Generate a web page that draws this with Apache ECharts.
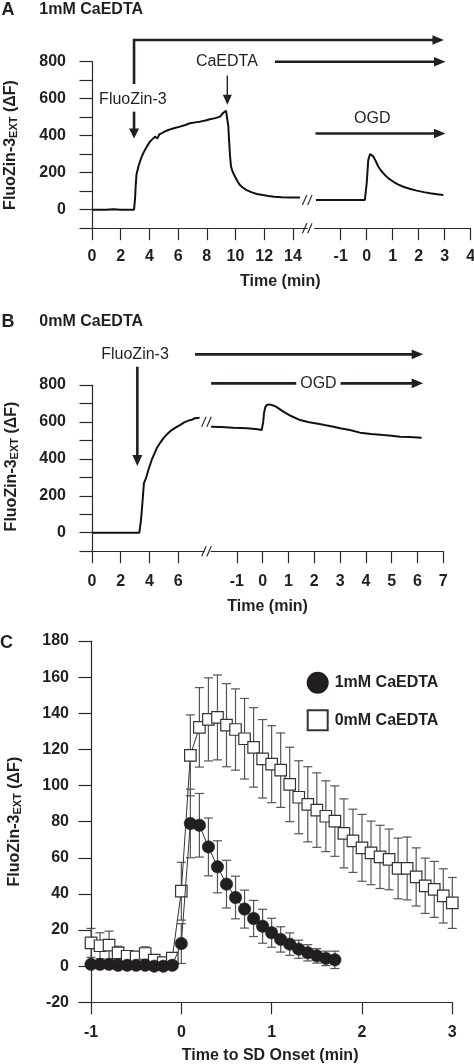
<!DOCTYPE html>
<html><head><meta charset="utf-8">
<script src="https://cdn.jsdelivr.net/npm/echarts@6/dist/echarts.min.js"></script>
<style>html,body{margin:0;padding:0;background:#fff}#c{width:474px;height:1064px}</style>
</head><body><div id="c"></div>
<script>
// ---------- Panel A (1mM CaEDTA) ----------
const tA1 = [0,0.5,1,1.5,2,2.5,2.93,3.0,3.04,3.1,3.23,3.35,3.46,3.6,3.69,3.85,4.04,4.2,4.39,4.55,4.7,4.85,5.0,5.2,5.44,5.7,6.13,6.5,6.83,7.2,7.53,7.9,8.22,8.6,8.92,9.05,9.15,9.25,9.34,9.42,9.45,9.5,9.55,9.62,9.69,9.8,9.97,10.15,10.31,10.5,10.78,11.1,11.48,11.9,12.29,12.7,13.22,13.8,14.5];
const vA1 = [0,0,0,2,0,0,0,60,124,190,232,262,286,310,323,345,368,380,395,385,408,413,420,427,434,440,449,458,467,472,476,482,489,495,503,505,524,515,535,530,530,450,377,290,232,205,178,152,133,120,106,95,85,79,74,70,67,66,66];
const tA2 = [-1.95,-1.5,-1.0,-0.5,-0.07,0,0.06,0.13,0.2,0.26,0.35,0.45,0.57,0.7,0.85,1.03,1.2,1.41,1.65,1.92,2.2,2.44,2.7,2.95];
const vA2 = [52,52,52,52,53,143,269,301,296,287,262,232,208,188,168,151,137,124,113,103,95,89,84,79];
const ticksA1 = [0,2,4,6,8,10,12,14];
const ticksA2 = [-1,0,1,2,3,4];
// ---------- Panel B (0mM CaEDTA) ----------
const tB1 = [0,1,2,3,3.3,3.35,3.39,3.45,3.53,3.62,3.76,3.93,4.16,4.35,4.51,4.75,4.97,5.25,5.55,5.85,6.13,6.4,6.71,6.95,7.18,7.5];
const vB1 = [0,0,0,0,0,30,51,100,177,268,295,340,394,428,457,487,511,535,556,570,583,596,607,612,620,623];
const tB2 = [-2.0,-1.6,-1.14,-0.6,-0.2,-0.04,0.02,0.05,0.1,0.16,0.25,0.35,0.5,0.8,1.1,1.45,1.75,2.09,2.4,2.74,3.05,3.38,3.77,4.2,4.67,5.0,5.32,5.7,6.16];
const vB2 = [574,572,569,566,560,556,600,647,680,692,695,692,684,656,632,610,600,592,583,574,565,556,542,535,529,525,520,518,515];
const ticksB1 = [0,2,4,6];
const ticksB2 = [-1,0,1,2,3,4,5,6,7];
const ticksAB_Y = [0,200,400,600,800];
// ---------- Panel C ----------
const tC1 = [-1,-0.9,-0.8,-0.7,-0.6,-0.5,-0.4,-0.3,-0.2,-0.1,0,0.1,0.2,0.3,0.4,0.5,0.6,0.7,0.8,0.9,1.0,1.1,1.2,1.3,1.4,1.5,1.6,1.7];
const mC1 = [1,1,1,0.5,0.5,0.5,0.5,0,0,0.5,12.5,79,78,66,55,45.4,38,31.6,26.4,22.1,18.5,14.8,12.2,9.4,7.4,5.7,4.3,3.5];
const eC1 = [0.5,0.5,0.5,0.5,0.5,0.5,0.5,0.5,0.5,0.5,11,19,17.6,16,14.4,13.2,11.8,10.5,10,9.4,8,7,6.2,5,4.5,4,4,4.8];
const tC2 = [-1,-0.9,-0.8,-0.7,-0.6,-0.5,-0.4,-0.3,-0.2,-0.1,0,0.1,0.2,0.3,0.4,0.5,0.6,0.7,0.8,0.9,1.0,1.1,1.2,1.3,1.4,1.5,1.6,1.7,1.8,1.9,2.0,2.1,2.2,2.3,2.4,2.5,2.6,2.7,2.8,2.9,3.0];
const mC2 = [12.9,11.3,11.6,7.4,5.5,5.2,7,3.3,2,4.5,41.5,116.7,132.2,136.6,137.7,133.4,131,125.9,121.1,114.8,111.8,108.5,100.6,93.5,89.6,86.4,83,80.3,73.5,69.4,65.5,62.7,60.5,59.1,54.1,54.1,49.4,44.5,42.5,38.9,35];
const eC2 = [8,7.2,7.8,3.6,2,2.2,3.7,2,1.5,2.5,16,22.4,22,23,23.5,23,22.5,22.3,22,21.7,21.3,20.6,20.6,20.2,20.8,20.6,19.6,19.5,19.1,17.5,18.5,17.6,17.5,16.8,16.8,17.4,16.1,15.3,15.5,15,14.1];
const seriesNames = ['1mM CaEDTA','0mM CaEDTA'];

const FONT = '"Liberation Sans", Arial, Helvetica, sans-serif';
const INK = '#231f20';
const AX = '#2a2a2a';
const zip = (a,b) => a.map((x,i)=>[x,b[i]]);
const zip3 = (a,b,c) => a.map((x,i)=>[x,b[i],c[i]]);

const chart = echarts.init(document.getElementById('c'), null, {renderer:'canvas'});

function xAx(grid, min, max, ticks, margin){
  return {type:'value', gridIndex:grid, min, max, interval: ticks ? undefined : 1,
    axisLine:{show:true,onZero:false,lineStyle:{color:AX,width:1.2}},
    axisTick:{show:true,inside:false,length:12,lineStyle:{color:AX,width:1.2}, customValues: ticks},
    axisLabel:{show:true,margin,fontFamily:FONT,fontWeight:'bold',fontSize:16,color:INK, customValues: ticks},
    splitLine:{show:false}};
}
function yAx(grid, min, max, interval, labels, margin, show){
  return {type:'value', gridIndex:grid, min, max, interval, show,
    axisLine:{show:true,onZero:false,lineStyle:{color:AX,width:1.2}},
    axisTick:{show:true,inside:false,length:12.5,lineStyle:{color:AX,width:1.2}},
    axisLabel:{show:true,margin,fontFamily:FONT,fontWeight:'bold',fontSize:16,color:INK, customValues: labels},
    splitLine:{show:false}};
}
function errRender(params, api){
  const t = api.value(0), v = api.value(1), e = api.value(2);
  const top = api.coord([t, v+e]), bot = api.coord([t, v-e]);
  const hw = 4.5, st = {stroke:'#555', lineWidth:1.2};
  return {type:'group', children:[
    {type:'line', shape:{x1:top[0],y1:top[1],x2:bot[0],y2:bot[1]}, style:st},
    {type:'line', shape:{x1:top[0]-hw,y1:top[1],x2:top[0]+hw,y2:top[1]}, style:st},
    {type:'line', shape:{x1:bot[0]-hw,y1:bot[1],x2:bot[0]+hw,y2:bot[1]}, style:st}
  ]};
}
const traceStyle = {color:'#111', width:2};

chart.setOption({
  animation:false,
  grid:[
    {left:92, top:61.7, width:215.25, height:166.5, containLabel:false, outerBoundsMode:'none'},
    {left:314.7, top:61.7, width:156, height:166.5, containLabel:false, outerBoundsMode:'none'},
    {left:92, top:385, width:111.9, height:166.2, containLabel:false, outerBoundsMode:'none'},
    {left:211.1, top:385, width:232.2, height:166.2, containLabel:false, outerBoundsMode:'none'},
    {left:91, top:641, width:361.3, height:361.3, containLabel:false, outerBoundsMode:'none'}
  ],
  xAxis:[
    xAx(0,0,15,ticksA1,20),
    xAx(1,-2,4,ticksA2,20),
    xAx(2,0,7.8,ticksB1,22),
    xAx(3,-2,7,ticksB2,22),
    xAx(4,-1,3,null,22)
  ],
  yAxis:[
    yAx(0,-100,800,100,ticksAB_Y,26,true),
    yAx(1,-100,800,100,ticksAB_Y,26,false),
    yAx(2,-100,800,100,ticksAB_Y,26,true),
    yAx(3,-100,800,100,ticksAB_Y,26,false),
    yAx(4,-20,180,20,undefined,22,true)
  ],
  legend:{orient:'vertical', left:301.7, top:666.7, itemWidth:20, itemHeight:20, itemGap:15.6,
    textStyle:{fontFamily:FONT,fontWeight:'bold',fontSize:16,color:INK,padding:[0,0,0,2]},
    data:[{name:seriesNames[0], icon:'circle'},{name:seriesNames[1], icon:'rect'}]},
  series:[
    {type:'line', xAxisIndex:0, yAxisIndex:0, data:zip(tA1,vA1), symbol:'none', lineStyle:traceStyle, silent:true},
    {type:'line', xAxisIndex:1, yAxisIndex:1, data:zip(tA2,vA2), symbol:'none', lineStyle:traceStyle, silent:true},
    {type:'line', xAxisIndex:2, yAxisIndex:2, data:zip(tB1,vB1), symbol:'none', lineStyle:traceStyle, silent:true},
    {type:'line', xAxisIndex:3, yAxisIndex:3, data:zip(tB2,vB2), symbol:'none', lineStyle:traceStyle, silent:true},
    {type:'custom', xAxisIndex:4, yAxisIndex:4, data:zip3(tC2,mC2,eC2), renderItem:errRender, encode:{x:0,y:1}, z:1},
    {type:'custom', xAxisIndex:4, yAxisIndex:4, data:zip3(tC1,mC1,eC1), renderItem:errRender, encode:{x:0,y:1}, z:1},
    {name:seriesNames[1], type:'line', xAxisIndex:4, yAxisIndex:4, data:zip(tC2,mC2), symbol:'rect', symbolSize:11.5,
      itemStyle:{color:'#fff', borderColor:'#333', borderWidth:1.2}, lineStyle:{color:'#333', width:1}, z:3},
    {name:seriesNames[0], type:'line', xAxisIndex:4, yAxisIndex:4, data:zip(tC1,mC1), symbol:'circle', symbolSize:12.5,
      itemStyle:{color:INK, borderColor:INK, borderWidth:0.5}, lineStyle:{color:'#333', width:1}, z:4}
  ]
});

// ---------- annotations placed through the axes ----------
const P = (g, x, y) => chart.convertToPixel({gridIndex:g}, [x, y]);
const G = [];
function txt(x, y, text, size, weight, align, extra){
  G.push(Object.assign({type:'text', x, y, z:100, silent:true, style:Object.assign({text, fontFamily:FONT, fontSize:size, fontWeight:weight,
    fill:INK, textAlign:align||'center', textVerticalAlign:'middle', align:align||'center', verticalAlign:'middle'}, extra||{})}));
}
function poly(points, w){ G.push({type:'polyline', z:100, silent:true, shape:{points}, style:{stroke:INK, lineWidth:w, fill:null}}); }
function arrowRight(p0, tip, w, len, hw){
  poly([p0, [tip[0]-len+1, tip[1]]], w);
  G.push({type:'polygon', z:100, silent:true, shape:{points:[[tip[0],tip[1]],[tip[0]-len,tip[1]-hw],[tip[0]-len,tip[1]+hw]]}, style:{fill:INK}});
}
function arrowDown(p0, tip, w, len, hw){
  poly([p0, [tip[0], tip[1]-len+1]], w);
  G.push({type:'polygon', z:100, silent:true, shape:{points:[[tip[0],tip[1]],[tip[0]-hw,tip[1]-len],[tip[0]+hw,tip[1]-len]]}, style:{fill:INK}});
}
function brk(cx, cy){
  [-2.6, 2.6].forEach(d => G.push({type:'line', z:101, silent:true, shape:{x1:cx+d-2.2,y1:cy+5,x2:cx+d+2.2,y2:cy-5}, style:{stroke:INK, lineWidth:1.1}}));
}
function yTitle(x, y){
  G.push({type:'text', x, y, rotation:Math.PI/2, z:100, silent:true, style:{
    text:'{a|FluoZin-3}{b|EXT}{a| (ΔF)}', textAlign:'center', textVerticalAlign:'middle', align:'center', verticalAlign:'middle',
    rich:{a:{fontFamily:FONT,fontWeight:'bold',fontSize:16,lineHeight:16,verticalAlign:'top',fill:INK},
          b:{fontFamily:FONT,fontWeight:'bold',fontSize:11,lineHeight:11,verticalAlign:'bottom',padding:[8,0,0,0],fill:INK}}}});
}

// Panel A
txt(1.5, 10, 'A', 18, 'bold', 'left');
txt(39.3, 10, '1mM CaEDTA', 16, 'bold', 'left');
yTitle(11, 145);
{
  const a = P(0, 2.93, 680), b = P(0, 2.93, 917), c = P(1, 2.97, 917);
  poly([a, b, [c[0]-10, c[1]]], 2.6);
  arrowRight([c[0]-11, c[1]], c, 2.6, 11.5, 4.8);
  txt(P(0,2.85,595)[0], P(0,2.85,595)[1], 'FluoZin-3', 16, 'normal');
  arrowDown(P(0,2.93,530), P(0,2.93,385), 2.6, 10, 5);
  const ce = P(0, 9.4, 800);
  txt(ce[0], ce[1], 'CaEDTA', 16, 'normal');
  arrowDown(P(0,9.43,725), P(0,9.43,567), 1.4, 10, 4.5);
  arrowRight(P(0,12.75,800), P(1,3.03,800), 2.6, 11.5, 4.8);
  const og = P(1, 0.215, 494);
  txt(og[0], og[1], 'OGD', 16, 'normal');
  arrowRight(P(1,-1.97,412), P(1,3.03,412), 2.6, 11.5, 4.8);
  const bx = P(0, 15, 0)[0];
  brk(bx, P(0,15,52)[1]);
  brk(bx, P(0,15,-100)[1]);
  const t1 = P(0, 7, -100), t2 = P(1, 0.5, -100);
  txt((P(0,0,-100)[0] + P(1,4,-100)[0]) / 2 - 1, t1[1] + 53.5, 'Time (min)', 16, 'bold');
}
// Panel B
txt(1.5, 321.7, 'B', 18, 'bold', 'left');
txt(39.3, 321.7, '0mM CaEDTA', 16, 'bold', 'left');
yTitle(12, 466.5);
{
  const ft = P(2, 3.0, 966);
  txt(ft[0], ft[1], 'FluoZin-3', 16, 'normal');
  arrowDown(P(2,3.16,899), P(2,3.16,361), 2.6, 11, 5);
  arrowRight(P(2,7.18,966), P(3,6.22,966), 2.6, 11.5, 4.8);
  arrowRight(P(3,-2.0,809), P(3,6.22,809), 2.6, 11.5, 4.8);
  const og = P(3, 2.16, 809);
  txt(og[0], og[1], 'OGD', 16, 'normal', 'center', {backgroundColor:'#fff', padding:[0,4,0,4]});
  const bx = (P(2,7.8,0)[0] + P(3,-2,0)[0]) / 2 - 1;
  brk(bx, P(2,7.8,601)[1]);
  brk(bx, P(2,7.8,-100)[1]);
  txt((P(2,0,-100)[0] + P(3,7,-100)[0]) / 2, P(2,0,-100)[1] + 55.5, 'Time (min)', 16, 'bold');
}
// Panel C
txt(0, 643.3, 'C', 18, 'bold', 'left');
yTitle(15, P(4, 0, 80)[1]);
txt((P(4,-1,-20)[0] + P(4,3,-20)[0]) / 2 - 1.5, P(4,0,-20)[1] + 53, 'Time to SD Onset (min)', 16, 'bold');

chart.setOption({graphic: G});
</script>
</body></html>
